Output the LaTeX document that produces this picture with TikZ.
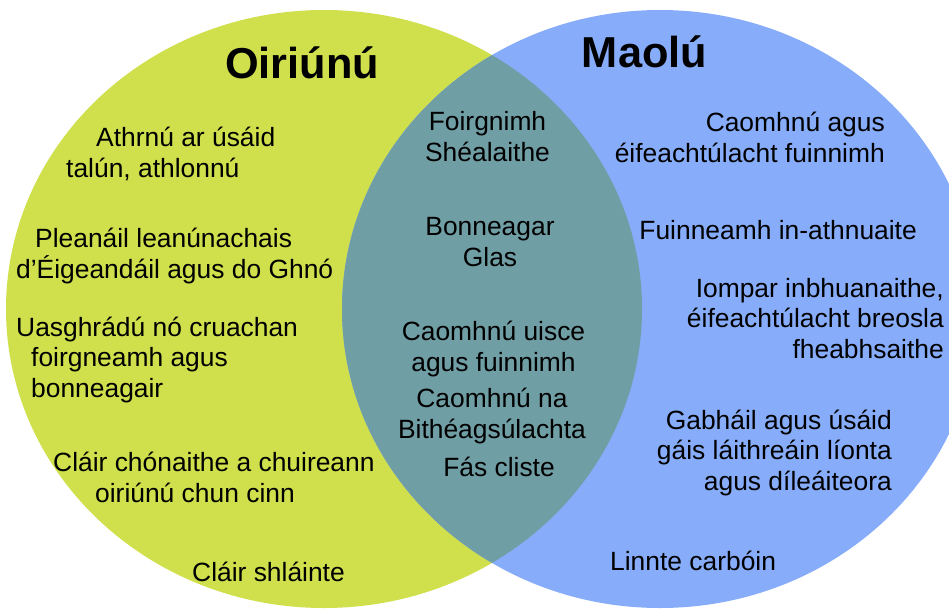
\documentclass[tikz,border=0pt]{standalone}
\usepackage{fontspec}
\setmainfont{Liberation Sans}
\usepackage{xcolor}
\usepackage{tikz}
\definecolor{adaptgreen}{RGB}{207,224,76}
\definecolor{mitigblue}{RGB}{135,172,249}
\definecolor{overlapteal}{RGB}{112,158,165}

\begin{document}
\begin{tikzpicture}[x=1pt, y=-1pt,
    item/.style={inner sep=0pt, font=\fontsize{26.4}{30.5}\selectfont},
    heading/.style={inner sep=0pt, font=\fontsize{43.3}{50}\selectfont\bfseries}]
  \useasboundingbox (0,0) rectangle (949,610);
  % the two sets
  \fill[adaptgreen] (324,309) ellipse [x radius=318, y radius=299];
  \fill[mitigblue] (660,309) ellipse [x radius=318, y radius=299];
  \begin{scope}
    \clip (324,309) ellipse [x radius=318, y radius=299];
    \fill[overlapteal] (660,309) ellipse [x radius=318, y radius=299];
  \end{scope}

  \node[heading, anchor=base] (adapt) at (302,78) {Oiriúnú};
  \node[heading, anchor=base] (mitig) at (644.5,67) {Maolú};

  % left only (base = last line)
  \node[item, anchor=base west, align=left] (landuse) at (66,177) {\hspace*{30pt}Athrnú ar úsáid\\talún, athlonnú};
  \node[item, anchor=base west, align=left] (continuity) at (16,278) {\hspace*{19pt}Pleanáil leanúnachais\\d’Éigeandáil agus do Ghnó};
  \node[item, anchor=base west, align=left] (upgrade) at (16,397) {Uasghrádú nó cruachan\\\hspace*{15pt}foirgneamh agus\\\hspace*{15pt}bonneagair};
  \node[item, anchor=base west, align=left] (housing) at (53,502) {Cláir chónaithe a chuireann\\\hspace*{42pt}oiriúnú chun cinn};
  \node[item, anchor=base west] (health) at (192,581) {Cláir shláinte};

  % overlap
  \node[item, anchor=base, align=center] (buildings) at (487.5,161) {Foirgnimh\\Shéalaithe};
  \node[item, anchor=base, align=center] (greeninfra) at (490,266) {Bonneagar\\Glas};
  \node[item, anchor=base, align=center] (water) at (493.5,371) {Caomhnú uisce\\agus fuinnimh};
  \node[item, anchor=base, align=center] (biodiv) at (492,438) {Caomhnú na\\Bithéagsúlachta};
  \node[item, anchor=base] (smart) at (499,476) {Fás cliste};

  % right only
  \node[item, anchor=base east, align=right] (efficiency) at (885,162) {Caomhnú agus\\éifeachtúlacht fuinnimh};
  \node[item, anchor=base east] (renew) at (917,239) {Fuinneamh in-athnuaite};
  \node[item, anchor=base east, align=right] (transport) at (944,358) {Iompar inbhuanaithe,\\éifeachtúlacht breosla\\fheabhsaithe};
  \node[item, anchor=base east, align=right] (gas) at (892,490) {Gabháil agus úsáid\\gáis láithreáin líonta\\agus díleáiteora};
  \node[item, anchor=base west] (carbon) at (610,570) {Linnte carbóin};
\end{tikzpicture}
\end{document}
